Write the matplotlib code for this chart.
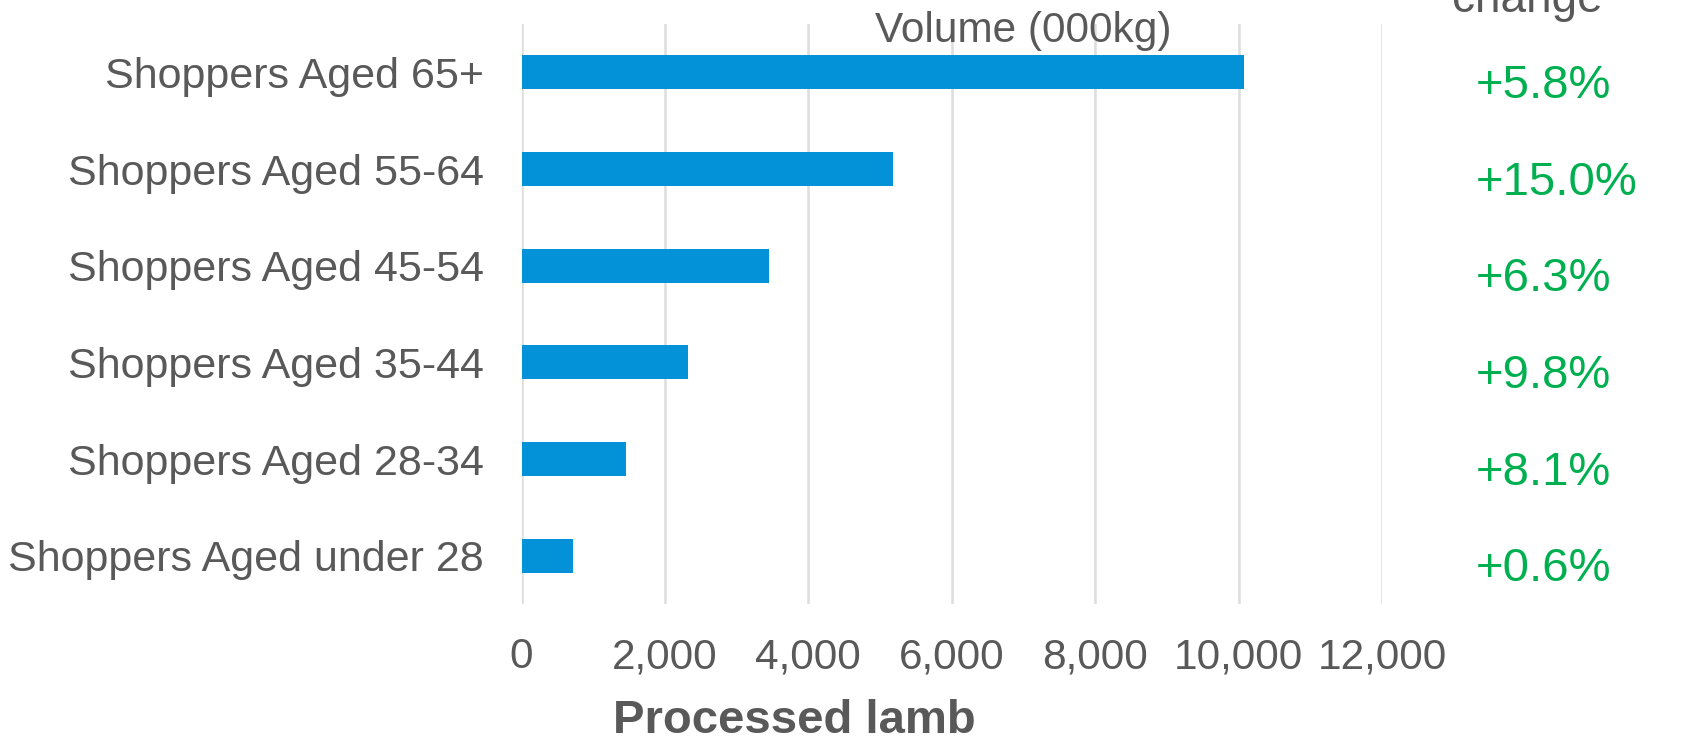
import matplotlib.pyplot as plt
import numpy as np

# data
categories = ['Shoppers Aged 65+', 'Shoppers Aged 55-64', 'Shoppers Aged 45-54',
              'Shoppers Aged 35-44', 'Shoppers Aged 28-34', 'Shoppers Aged under 28']
volume = [10077, 5181, 3452, 2322, 1457, 711]
change = ['+5.8%', '+15.0%', '+6.3%', '+9.8%', '+8.1%', '+0.6%']
xticks = [0, 2000, 4000, 6000, 8000, 10000, 12000]

txtcol = '#595959'
barcol = '#0391D7'
grncol = '#00B050'

plt.rcParams['font.family'] = ['Liberation Sans', 'DejaVu Sans']

fig = plt.figure(figsize=(17.06, 7.36), dpi=100)
ax = fig.add_axes([0.3057, 0.1793, 0.5044, 0.7881])

ypos = np.arange(len(categories))
ax.barh(ypos, volume, height=0.35, color=barcol, zorder=2)
ax.set_ylim(-0.5, len(categories) - 0.5)
ax.invert_yaxis()
ax.set_xlim(0, 12000)
ax.set_xticks(xticks)
ax.set_xticklabels([f'{t:,}' for t in xticks])
ax.set_yticks(ypos)
ax.set_yticklabels(categories)
ax.tick_params(axis='y', length=0, pad=27, labelsize=31, labelcolor=txtcol)
ax.tick_params(axis='x', length=0, pad=24, labelsize=30.5, labelcolor=txtcol)
ax.grid(axis='x', color='#DDDDDD', linewidth=1.8, zorder=0)
for s in ax.spines.values():
    s.set_visible(False)

# % change column, a bit below the bar centres
for i, c in enumerate(change):
    ax.text(1.109, ypos[i] + 0.14, c, transform=ax.get_yaxis_transform(),
            ha='left', va='center', fontsize=34, color=grncol)

fig.text(0.5996, 0.943, 'Volume (000kg)', ha='center', va='baseline',
         fontsize=30.5, color=txtcol)
fig.text(0.895, 0.984, 'change', ha='center', va='baseline',
         fontsize=33, color=txtcol)
fig.text(0.4654, 0.02, 'Processed lamb', ha='center', va='center',
         fontsize=34, fontweight='bold', color=txtcol)

fig.savefig('out.png', dpi=100)
